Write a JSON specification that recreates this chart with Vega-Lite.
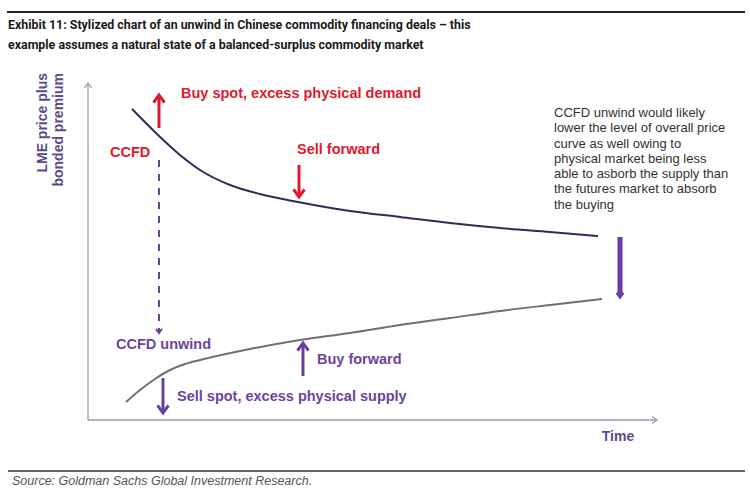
{
  "$schema": "https://vega.github.io/schema/vega-lite/v6.json",
  "width": 750,
  "height": 498,
  "autosize": {"type": "fit", "contains": "padding"},
  "padding": 0,
  "background": "white",
  "config": {"view": {"stroke": null}},
  "datasets": {
    "curves": [
      {"tone": "price", "t": 132, "p": 389}, {"tone": "price", "t": 158, "p": 363},
      {"tone": "price", "t": 180, "p": 343}, {"tone": "price", "t": 200, "p": 328},
      {"tone": "price", "t": 230, "p": 313}, {"tone": "price", "t": 260, "p": 304},
      {"tone": "price", "t": 298, "p": 296}, {"tone": "price", "t": 350, "p": 287},
      {"tone": "price", "t": 400, "p": 281}, {"tone": "price", "t": 450, "p": 275},
      {"tone": "price", "t": 500, "p": 270}, {"tone": "price", "t": 550, "p": 266},
      {"tone": "price", "t": 598, "p": 262},
      {"tone": "unwind", "t": 126, "p": 96}, {"tone": "unwind", "t": 140, "p": 108},
      {"tone": "unwind", "t": 155, "p": 119}, {"tone": "unwind", "t": 170, "p": 128},
      {"tone": "unwind", "t": 185, "p": 134}, {"tone": "unwind", "t": 200, "p": 138},
      {"tone": "unwind", "t": 250, "p": 149}, {"tone": "unwind", "t": 300, "p": 158},
      {"tone": "unwind", "t": 350, "p": 165}, {"tone": "unwind", "t": 400, "p": 173},
      {"tone": "unwind", "t": 450, "p": 180}, {"tone": "unwind", "t": 500, "p": 187},
      {"tone": "unwind", "t": 550, "p": 193}, {"tone": "unwind", "t": 602, "p": 199}
    ],
    "segments": [
      {"kind": "toprule", "tone": "frame", "t": 7, "t2": 745, "p": 486, "p2": 486},
      {"kind": "rule", "tone": "frame", "t": 8, "t2": 745, "p": 27, "p2": 27},
      {"kind": "axis", "tone": "axis", "t": 88, "t2": 88, "p": 415, "p2": 78},
      {"kind": "axis", "tone": "axis", "t": 88, "t2": 657, "p": 78, "p2": 78},
      {"kind": "arrow", "tone": "red", "t": 159, "t2": 159, "p": 370, "p2": 401},
      {"kind": "arrow", "tone": "red", "t": 299, "t2": 299, "p": 333, "p2": 303},
      {"kind": "arrow", "tone": "purple", "t": 303, "t2": 303, "p": 122, "p2": 153},
      {"kind": "arrow", "tone": "purple", "t": 163, "t2": 163, "p": 120, "p2": 87},
      {"kind": "big", "tone": "purple", "t": 620, "t2": 620, "p": 261, "p2": 204},
      {"kind": "dash", "tone": "purple", "t": 159, "t2": 159, "p": 338, "p2": 167}
    ],
    "heads": [
      {"kind": "axis", "tone": "axis", "dir": "up", "t": 88, "p": 415},
      {"kind": "axis", "tone": "axis", "dir": "right", "t": 657, "p": 78},
      {"kind": "arrow", "tone": "red", "dir": "up", "t": 159, "p": 403},
      {"kind": "arrow", "tone": "red", "dir": "down", "t": 299, "p": 301},
      {"kind": "arrow", "tone": "purple", "dir": "up", "t": 303, "p": 155},
      {"kind": "arrow", "tone": "purple", "dir": "down", "t": 163, "p": 85},
      {"kind": "big", "tone": "purple", "dir": "down", "t": 620, "p": 201},
      {"kind": "dash", "tone": "purple", "dir": "down", "t": 159, "p": 165}
    ],
    "labels": [
      {"kind": "title", "text": "Exhibit 11: Stylized chart of an unwind in Chinese commodity financing deals – this", "t": 8, "p": 469},
      {"kind": "title", "text": "example assumes a natural state of a balanced-surplus commodity market", "t": 8, "p": 449},
      {"kind": "source", "text": "Source: Goldman Sachs Global Investment Research.", "t": 12, "p": 13},
      {"kind": "ylab", "text": "LME price plus", "t": 43, "p": 425},
      {"kind": "ylab", "text": "bonded premium", "t": 59, "p": 425},
      {"kind": "red", "text": "Buy spot, excess physical demand", "t": 181, "p": 404},
      {"kind": "red", "text": "CCFD", "t": 110, "p": 345},
      {"kind": "red", "text": "Sell forward", "t": 297, "p": 348},
      {"kind": "purple", "text": "CCFD unwind", "t": 116, "p": 153},
      {"kind": "purple", "text": "Buy forward", "t": 317, "p": 138},
      {"kind": "purple", "text": "Sell spot, excess physical supply", "t": 177, "p": 101},
      {"kind": "time", "text": "Time", "t": 618, "p": 61},
      {"kind": "note", "text": "CCFD unwind would likely", "t": 554, "p": 385},
      {"kind": "note", "text": "lower the level of overall price", "t": 554, "p": 370},
      {"kind": "note", "text": "curve as well owing to", "t": 554, "p": 354},
      {"kind": "note", "text": "physical market being less", "t": 554, "p": 339},
      {"kind": "note", "text": "able to asborb the supply than", "t": 554, "p": 324},
      {"kind": "note", "text": "the futures market to absorb", "t": 554, "p": 309},
      {"kind": "note", "text": "the buying", "t": 554, "p": 293}
    ]
  },
  "encoding": {
    "x": {"field": "t", "type": "quantitative", "scale": {"domain": [0, 750], "nice": false, "zero": false}, "axis": null},
    "y": {"field": "p", "type": "quantitative", "scale": {"domain": [0, 498], "nice": false, "zero": false}, "axis": null}
  },
  "layer": [
    {
      "data": {"name": "segments"},
      "transform": [{"filter": "datum.kind === 'toprule'"}],
      "mark": {"type": "rule", "strokeWidth": 2.2, "color": "#222222"},
      "encoding": {"x2": {"field": "t2"}, "y2": {"field": "p2"}}
    },
    {
      "data": {"name": "segments"},
      "transform": [{"filter": "datum.kind === 'rule'"}],
      "mark": {"type": "rule", "strokeWidth": 1.5, "color": "#333333"},
      "encoding": {"x2": {"field": "t2"}, "y2": {"field": "p2"}}
    },
    {
      "data": {"name": "segments"},
      "transform": [{"filter": "datum.kind === 'axis'"}],
      "mark": {"type": "rule", "strokeWidth": 1.3, "color": "#9a9ab0"},
      "encoding": {"x2": {"field": "t2"}, "y2": {"field": "p2"}}
    },
    {
      "data": {"name": "curves"},
      "mark": {"type": "line", "interpolate": "monotone", "strokeWidth": 2},
      "encoding": {
        "color": {"field": "tone", "type": "nominal", "scale": {"domain": ["price", "unwind", "red", "purple", "axis"], "range": ["#2f2b5c", "#707070", "#e0182d", "#6b3fa0", "#9a9ab0"]}, "legend": null}
      }
    },
    {
      "data": {"name": "segments"},
      "transform": [{"filter": "datum.kind === 'arrow'"}],
      "mark": {"type": "rule", "strokeWidth": 3},
      "encoding": {
        "x2": {"field": "t2"}, "y2": {"field": "p2"},
        "color": {"field": "tone", "type": "nominal", "legend": null}
      }
    },
    {
      "data": {"name": "segments"},
      "transform": [{"filter": "datum.kind === 'big'"}],
      "mark": {"type": "rule", "strokeWidth": 5, "color": "#6a3aa5"},
      "encoding": {"x2": {"field": "t2"}, "y2": {"field": "p2"}}
    },
    {
      "data": {"name": "segments"},
      "transform": [{"filter": "datum.kind === 'dash'"}],
      "mark": {"type": "rule", "strokeWidth": 2, "strokeDash": [7, 7], "color": "#6b3fa0"},
      "encoding": {"x2": {"field": "t2"}, "y2": {"field": "p2"}}
    },
    {
      "data": {"name": "heads"},
      "transform": [{"filter": "datum.kind === 'arrow'"}],
      "mark": {"type": "point", "filled": false, "strokeWidth": 3, "size": 120, "opacity": 1},
      "encoding": {
        "shape": {"field": "dir", "type": "nominal", "scale": {"domain": ["up", "down", "right"], "range": ["M-1,1.4L0,0L1,1.4", "M-1,-1.4L0,0L1,-1.4", "M-1.4,-1L0,0L-1.4,1"]}, "legend": null},
        "color": {"field": "tone", "type": "nominal", "legend": null}
      }
    },
    {
      "data": {"name": "heads"},
      "transform": [{"filter": "datum.kind === 'axis'"}],
      "mark": {"type": "point", "filled": false, "strokeWidth": 1.3, "size": 50, "opacity": 1, "color": "#9a9ab0"},
      "encoding": {
        "shape": {"field": "dir", "type": "nominal", "legend": null}
      }
    },
    {
      "data": {"name": "heads"},
      "transform": [{"filter": "datum.kind === 'big'"}],
      "mark": {"type": "point", "filled": false, "strokeWidth": 3, "size": 40, "opacity": 1, "color": "#6a3aa5"},
      "encoding": {
        "shape": {"field": "dir", "type": "nominal", "legend": null}
      }
    },
    {
      "data": {"name": "heads"},
      "transform": [{"filter": "datum.kind === 'dash'"}],
      "mark": {"type": "point", "filled": false, "strokeWidth": 2, "size": 36, "opacity": 1, "color": "#6b3fa0"},
      "encoding": {
        "shape": {"field": "dir", "type": "nominal", "legend": null}
      }
    },
    {
      "data": {"name": "labels"},
      "transform": [{"filter": "datum.kind === 'title'"}],
      "mark": {"type": "text", "align": "left", "baseline": "alphabetic", "font": "Roboto", "fontWeight": "bold", "fontSize": 12.4, "color": "#1a1a1a"},
      "encoding": {"text": {"field": "text"}}
    },
    {
      "data": {"name": "labels"},
      "transform": [{"filter": "datum.kind === 'source'"}],
      "mark": {"type": "text", "align": "left", "baseline": "alphabetic", "font": "Liberation Sans", "fontStyle": "italic", "fontSize": 12.5, "color": "#555555"},
      "encoding": {"text": {"field": "text"}}
    },
    {
      "data": {"name": "labels"},
      "transform": [{"filter": "datum.kind === 'ylab'"}],
      "mark": {"type": "text", "align": "right", "baseline": "middle", "angle": 270, "font": "Liberation Sans", "fontWeight": "bold", "fontSize": 14, "color": "#5a4a8c"},
      "encoding": {"text": {"field": "text"}}
    },
    {
      "data": {"name": "labels"},
      "transform": [{"filter": "datum.kind === 'red'"}],
      "mark": {"type": "text", "align": "left", "baseline": "middle", "font": "Liberation Sans", "fontWeight": "bold", "fontSize": 14.5, "color": "#e0182d"},
      "encoding": {"text": {"field": "text"}}
    },
    {
      "data": {"name": "labels"},
      "transform": [{"filter": "datum.kind === 'purple'"}],
      "mark": {"type": "text", "align": "left", "baseline": "middle", "font": "Liberation Sans", "fontWeight": "bold", "fontSize": 14.5, "color": "#6b44a0"},
      "encoding": {"text": {"field": "text"}}
    },
    {
      "data": {"name": "labels"},
      "transform": [{"filter": "datum.kind === 'time'"}],
      "mark": {"type": "text", "align": "center", "baseline": "middle", "font": "Liberation Sans", "fontWeight": "bold", "fontSize": 14, "color": "#5a4a8c"},
      "encoding": {"text": {"field": "text"}}
    },
    {
      "data": {"name": "labels"},
      "transform": [{"filter": "datum.kind === 'note'"}],
      "mark": {"type": "text", "align": "left", "baseline": "middle", "font": "Liberation Sans", "fontSize": 13, "color": "#333333"},
      "encoding": {"text": {"field": "text"}}
    }
  ]
}
